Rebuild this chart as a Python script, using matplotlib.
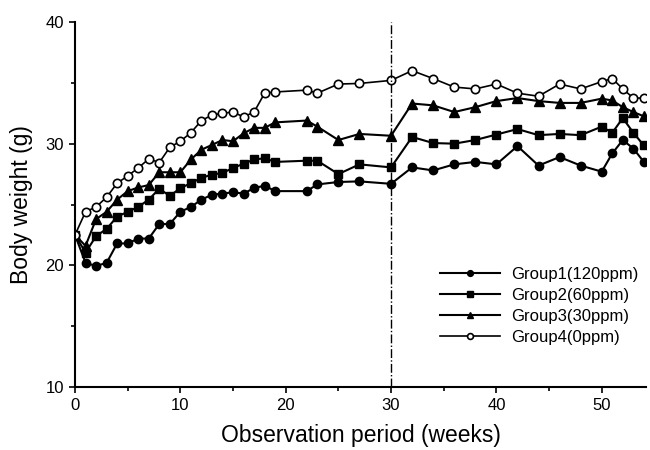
import matplotlib.pyplot as plt

plt.rcParams['font.family'] = ['Liberation Sans', 'DejaVu Sans']

weeks = [0, 1, 2, 3, 4, 5, 6, 7, 8, 9, 10, 11, 12, 13, 14, 15, 16, 17, 18, 19,
         22, 23, 25, 27, 30, 32, 34, 36, 38, 40, 42, 44, 46, 48, 50, 51, 52, 53, 54]

group1 = [22.5, 20.2, 19.95, 20.2, 21.8, 21.8, 22.2, 22.2, 23.4, 23.4, 24.4, 24.8,
          25.4, 25.8, 25.9, 26.0, 25.9, 26.35, 26.55, 26.1,
          26.1, 26.65, 26.85, 26.9, 26.7, 28.05, 27.8, 28.3, 28.5, 28.3, 29.8, 28.2,
          28.9, 28.2, 27.7, 29.2, 30.3, 29.6, 28.5]
group2 = [22.5, 21.05, 22.4, 23.0, 24.0, 24.4, 24.8, 25.4, 26.3, 25.7, 26.35, 26.75,
          27.2, 27.45, 27.6, 28.0, 28.35, 28.7, 28.8, 28.5,
          28.6, 28.6, 27.5, 28.3, 28.05, 30.55, 30.05, 30.0, 30.3, 30.75, 31.2, 30.7,
          30.8, 30.7, 31.4, 30.9, 32.1, 30.9, 29.85]
group3 = [22.5, 21.6, 23.8, 24.4, 25.4, 26.1, 26.4, 26.6, 27.65, 27.65, 27.65, 28.7,
          29.5, 29.9, 30.3, 30.2, 30.85, 31.3, 31.3, 31.75,
          31.9, 31.4, 30.3, 30.8, 30.65, 33.3, 33.15, 32.6, 33.0, 33.5, 33.75, 33.5,
          33.35, 33.35, 33.7, 33.55, 33.0, 32.6, 32.25]
group4 = [22.5, 24.4, 24.8, 25.6, 26.75, 27.35, 28.0, 28.75, 28.45, 29.7, 30.2, 30.9,
          31.9, 32.35, 32.5, 32.6, 32.2, 32.6, 34.15, 34.25,
          34.4, 34.15, 34.9, 34.95, 35.2, 36.0, 35.35, 34.65, 34.5, 34.9, 34.15, 33.9,
          34.9, 34.5, 35.1, 35.35, 34.5, 33.75, 33.75]

labels = ['Group1(120ppm)', 'Group2(60ppm)', 'Group3(30ppm)', 'Group4(0ppm)']

fig = plt.figure(figsize=(6.5, 4.5), dpi=100)
ax = fig.add_axes([0.1154, 0.14, 0.8784, 0.8111])

ax.plot(weeks, group1, color='black', lw=1.5, marker='o', ms=6, mfc='black', label=labels[0])
ax.plot(weeks, group2, color='black', lw=1.5, marker='s', ms=6, mfc='black', label=labels[1])
ax.plot(weeks, group3, color='black', lw=1.5, marker='^', ms=6.5, mfc='black', label=labels[2])
ax.plot(weeks, group4, color='black', lw=1.2, marker='o', ms=6, mfc='white', mew=1.2, label=labels[3])

# dash-dot line at week 30
ax.axvline(30, color='black', lw=1, ls='-.')

ax.set_xlim(0, 54.2)
ax.set_ylim(10, 40)
ax.set_xticks([0, 10, 20, 30, 40, 50])
ax.set_xticks(range(5, 55, 10), minor=True)
ax.set_yticks([10, 20, 30, 40])
ax.set_yticks([15, 25, 35], minor=True)
ax.tick_params(which='major', length=4, width=1.2, labelsize=12, direction='out', pad=4)
ax.tick_params(which='minor', length=3, width=1.2, direction='out')
ax.spines['top'].set_visible(False)
ax.spines['right'].set_visible(False)
ax.spines['left'].set_linewidth(1.5)
ax.spines['bottom'].set_linewidth(1.5)

ax.set_xlabel('Observation period (weeks)', fontsize=16.5, labelpad=8)
ax.set_ylabel('Body weight (g)', fontsize=16.5, labelpad=9)

ax.legend(loc='upper left', bbox_to_anchor=(0.639, 0.328), frameon=False, fontsize=12,
          handlelength=3.6, handletextpad=0.7, markerscale=0.7, labelspacing=0.35,
          borderaxespad=0, borderpad=0)

fig.savefig('out.png', dpi=100)
